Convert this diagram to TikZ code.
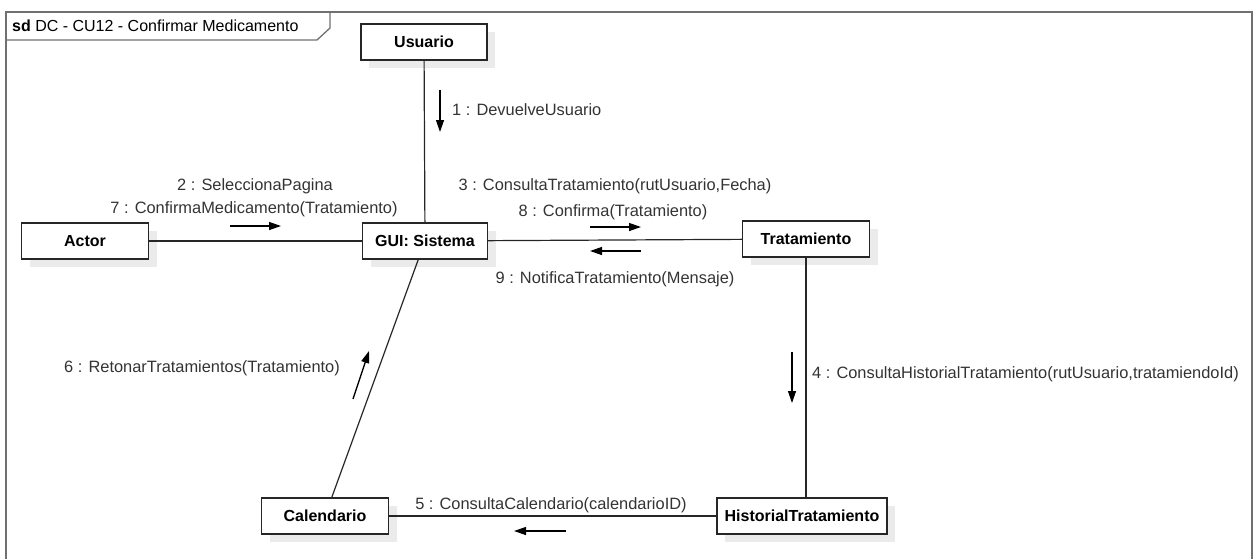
\documentclass[tikz,border=0pt]{standalone}
\usepackage{fontspec}
\setmainfont{Liberation Sans}
\usetikzlibrary{arrows.meta}
\definecolor{framegray}{HTML}{707070}
\definecolor{shadowgray}{HTML}{EBEBEB}
\definecolor{txtgray}{HTML}{333333}
\tikzset{
  obj/.style={draw=black!85, line width=1.3pt, fill=white, minimum height=36pt, inner sep=0pt,
    font=\fontsize{16}{18}\selectfont\bfseries,
    preaction={fill=shadowgray, draw=none, transform canvas={shift={(8pt,-8pt)}}}},
  link/.style={draw=black!85, line width=1.2pt},
  msg/.style={line width=1.3pt, -{Triangle[length=12pt,width=8pt]}},
  lbl/.style={font=\fontsize{16.4}{18}\selectfont, text=txtgray, inner sep=0pt},
}
\begin{document}
\begin{tikzpicture}[x=1pt,y=-1pt]
\useasboundingbox (0,0) rectangle (1254,558);
% frame
\draw[framegray, line width=1.6pt] (6,565) -- (6,12) -- (1252,12) -- (1252,565);
\draw[framegray, line width=1.3pt] (6,40) -- (317,40) -- (330,28) -- (330,12);
\node[anchor=base west, inner sep=0pt, font=\fontsize{16}{18}\selectfont] (title) at (12,31) {\textbf{sd}\ DC - CU12 - Confirmar Medicamento};
% objects
\node[obj, minimum width=126pt] (usr) at (424,42) {Usuario};
\node[obj, minimum width=127pt] (actor) at (85,241) {Actor};
\node[obj, minimum width=125pt] (gui) at (425,241) {GUI: Sistema};
\node[obj, minimum width=127pt] (trat) at (806,239) {Tratamiento};
\node[obj, minimum width=127pt] (cal) at (325,516) {Calendario};
\node[obj, minimum width=170pt] (hist) at (802,516) {HistorialTratamiento};
% links
\draw[link] (usr) -- (gui);
\draw[link] (actor) -- (gui);
\draw[link] (gui) -- (trat);
\draw[link] (trat.south) -- (trat.south |- hist.north);
\draw[link] (hist) -- (cal);
\draw[link] (gui) -- (cal);
% message 1
\coordinate (m1a) at (440,90); \coordinate (m1b) at (440,132);
\draw[msg] (m1a) -- (m1b);
\node[lbl, anchor=west] (l1) at (452,110) {1 : DevuelveUsuario};
% messages 2,7
\coordinate (m2a) at (230,226); \coordinate (m2b) at (281,226);
\draw[msg] (m2a) -- (m2b);
\node[lbl] (l2) at (255,186) {2 : SeleccionaPagina};
\node[lbl] (l7) at (254,209) {7 : ConfirmaMedicamento(Tratamiento)};
% messages 3,8,9
\coordinate (m3a) at (590,227); \coordinate (m3b) at (641,227);
\draw[msg] (m3a) -- (m3b);
\coordinate (m9a) at (641,251); \coordinate (m9b) at (590,251);
\draw[msg] (m9a) -- (m9b);
\node[lbl] (l3) at (615,186) {3 : ConsultaTratamiento(rutUsuario,Fecha)};
\node[lbl] (l8) at (613,212) {8 : Confirma(Tratamiento)};
\node[lbl] (l9) at (615,279) {9 : NotificaTratamiento(Mensaje)};
% message 4
\coordinate (m4a) at (792,352); \coordinate (m4b) at (792,403);
\draw[msg] (m4a) -- (m4b);
\node[lbl, anchor=west] (l4) at (812,374) {4 : ConsultaHistorialTratamiento(rutUsuario,tratamiendoId)};
% message 5
\coordinate (m5a) at (566,531); \coordinate (m5b) at (514,531);
\draw[msg] (m5a) -- (m5b);
\node[lbl] (l5) at (551,505) {5 : ConsultaCalendario(calendarioID)};
% message 6
\coordinate (m6a) at (353,399); \coordinate (m6b) at (369,351);
\draw[msg] (m6a) -- (m6b);
\node[lbl, anchor=east] (l6) at (340,368) {6 : RetonarTratamientos(Tratamiento)};
\end{tikzpicture}
\end{document}
